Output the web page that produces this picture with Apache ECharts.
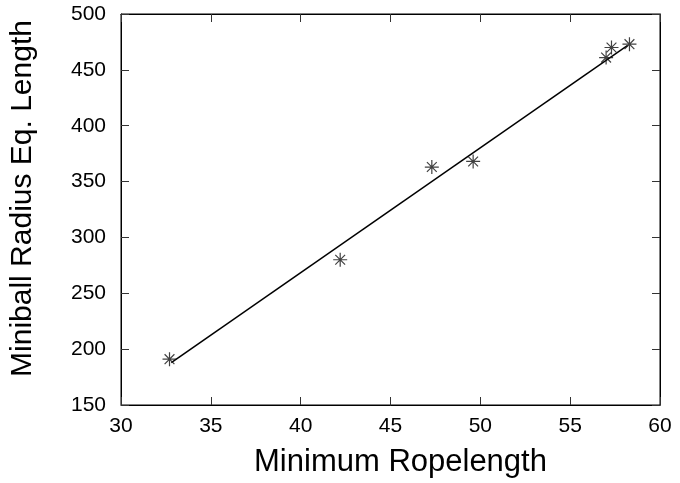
<!DOCTYPE html>
<html>
<head>
<meta charset="utf-8">
<script src="https://cdn.jsdelivr.net/npm/echarts@6/dist/echarts.min.js"></script>
<style>
  html, body { margin: 0; padding: 0; background: #fff; }
  #chart { width: 680px; height: 483px; }
</style>
</head>
<body>
<div id="chart"></div>
<script>
// points
const ropeLength = [32.7, 42.2, 47.3, 49.6, 57.0, 57.3, 58.3];
const miniballLength = [191, 280, 363, 368, 461, 470, 473];
// fitted line endpoints
const fitX = [32.8, 58.2];
const fitY = [188, 472];

const xTitle = 'Minimum Ropelength';
const yTitle = 'Miniball Radius Eq. Length';

const font = 'Liberation Sans, Arial, sans-serif';
const starPath = 'path://M0,-10L0,10M-10,0L10,0M-7,-7L7,7M-7,7L7,-7';

const tickStyle = { inside: true, length: 8, lineStyle: { color: '#333', width: 1 } };

const chart = echarts.init(document.getElementById('chart'));
chart.setOption({
  animation: false,
  grid: {
    left: 121, right: 20, top: 14, bottom: 76,
    show: true, borderColor: '#000', borderWidth: 1
  },
  xAxis: [
    {
      type: 'value', min: 30, max: 60, interval: 5,
      name: xTitle, nameLocation: 'middle', nameGap: 42,
      nameTextStyle: { fontFamily: font, fontSize: 31, color: '#000', padding: [0, 0, 0, 20] },
      axisLine: { show: true, lineStyle: { color: '#000' } },
      axisTick: tickStyle,
      axisLabel: { fontFamily: font, fontSize: 21, color: '#000', margin: 11 },
      splitLine: { show: false }
    },
    {
      type: 'value', min: 30, max: 60, interval: 5, position: 'top',
      axisLine: { show: true, lineStyle: { color: '#000' } },
      axisTick: tickStyle,
      axisLabel: { show: false },
      splitLine: { show: false }
    }
  ],
  yAxis: [
    {
      type: 'value', min: 150, max: 500, interval: 50,
      name: yTitle, nameLocation: 'middle', nameGap: 83, nameRotate: 90,
      nameTextStyle: { fontFamily: font, fontSize: 30, color: '#000', padding: [0, 0, 0, 22] },
      axisLine: { show: true, lineStyle: { color: '#000' } },
      axisTick: tickStyle,
      axisLabel: { fontFamily: font, fontSize: 21, color: '#000', margin: 15 },
      splitLine: { show: false }
    },
    {
      type: 'value', min: 150, max: 500, interval: 50, position: 'right',
      axisLine: { show: true, lineStyle: { color: '#000' } },
      axisTick: tickStyle,
      axisLabel: { show: false },
      splitLine: { show: false }
    }
  ],
  series: [
    {
      type: 'line',
      data: fitX.map((x, i) => [x, fitY[i]]),
      showSymbol: false,
      lineStyle: { color: '#000', width: 1.5 },
      z: 2
    },
    {
      type: 'scatter',
      data: ropeLength.map((x, i) => [x, miniballLength[i]]),
      symbol: starPath,
      symbolSize: 14,
      itemStyle: { color: 'transparent', borderColor: '#111', borderWidth: 1.2 },
      z: 3
    }
  ]
});
</script>
</body>
</html>
